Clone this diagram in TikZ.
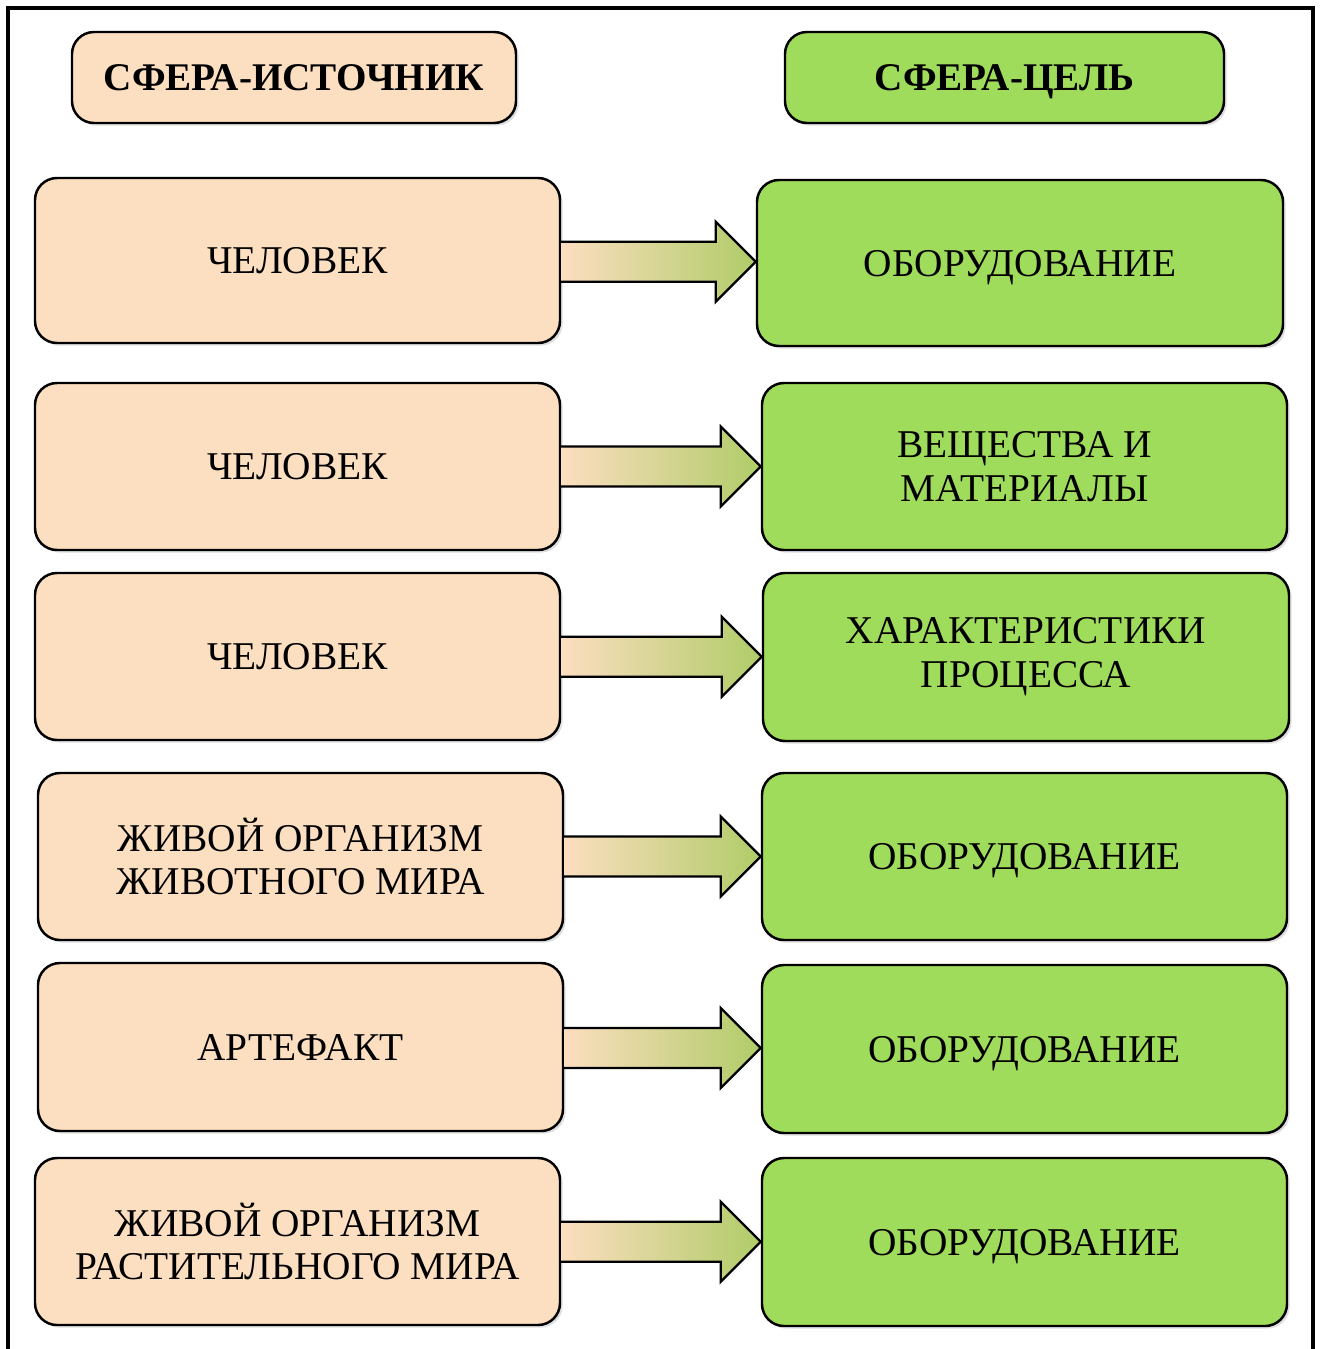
\documentclass[tikz,border=0pt]{standalone}
\usepackage{fontspec}
\setmainfont{Liberation Serif}
\usetikzlibrary{calc,shadows}
\definecolor{peach}{RGB}{252,222,192}
\definecolor{leaf}{RGB}{160,220,92}
\definecolor{arrowmid}{RGB}{248,242,196}
\definecolor{arrowend}{RGB}{176,204,104}
\tikzset{
  box/.style={draw=black, line width=1.4pt, rounded corners=0.44cm, align=center,
    inner sep=0pt, font=\fontsize{22.4}{25}\selectfont,
    drop shadow={opacity=0.25, shadow xshift=1.5pt, shadow yshift=-1.5pt}},
  srcbox/.style={box, fill=peach},
  tgtbox/.style={box, fill=leaf},
  one/.style={text height=14.8pt, text depth=0pt},
  headbox/.style={one, font=\fontsize{22.3}{25}\selectfont\bfseries},
  sz/.style 2 args={minimum width=#1*0.02cm, minimum height=#2*0.02cm},
  fatarrow/.style={draw=black, line width=1.3pt, line join=miter,
    left color=peach, middle color=arrowmid, right color=arrowend},
  frame/.style={draw=black, line width=2.8pt}
}
\begin{document}
\begin{tikzpicture}[x=0.02cm,y=-0.02cm]
\useasboundingbox (0,0) rectangle (1322,1349);
\draw[frame] (8,1349) -- (8,8) -- (1313,8) -- (1313,1349);

\node[srcbox, headbox, sz={444}{91}] (HL) at (294,77.5) {СФЕРА-ИСТОЧНИК};
\node[tgtbox, headbox, sz={439}{91}] (HR) at (1004.5,77.5) {СФЕРА-ЦЕЛЬ};

\node[srcbox, one, sz={525}{165}] (L1) at (297.5,260.5) {ЧЕЛОВЕК};
\node[srcbox, one, sz={525}{167}] (L2) at (297.5,466.5) {ЧЕЛОВЕК};
\node[srcbox, one, sz={525}{167}] (L3) at (297.5,656.5) {ЧЕЛОВЕК};
\node[srcbox, sz={525}{167}] (L4) at (300.5,856.5) {ЖИВОЙ ОРГАНИЗМ\\ЖИВОТНОГО МИРА};
\node[srcbox, one, sz={525}{168}] (L5) at (300.5,1047) {АРТЕФАКТ};
\node[srcbox, sz={525}{167}] (L6) at (297.5,1241.5) {ЖИВОЙ ОРГАНИЗМ\\РАСТИТЕЛЬНОГО МИРА};

\node[tgtbox, one, sz={526}{166}] (R1) at (1020,263) {ОБОРУДОВАНИЕ};
\node[tgtbox, sz={525}{167}] (R2) at (1024.5,466.5) {ВЕЩЕСТВА И\\МАТЕРИАЛЫ};
\node[tgtbox, sz={526}{168}] (R3) at (1026,657) {ХАРАКТЕРИСТИКИ\\ПРОЦЕССА};
\node[tgtbox, one, sz={525}{167}] (R4) at (1024.5,856.5) {ОБОРУДОВАНИЕ};
\node[tgtbox, one, sz={525}{168}] (R5) at (1024.5,1049) {ОБОРУДОВАНИЕ};
\node[tgtbox, one, sz={525}{168}] (R6) at (1024.5,1242) {ОБОРУДОВАНИЕ};

\foreach \a/\b in {L1/R1,L2/R2,L3/R3,L4/R4,L5/R5,L6/R6}{
  \path[fatarrow] let \p1=(\a.east), \p2=(\b.west), \n1={0.5*(\y1+\y2)} in
    (\x1,\n1+0.4cm) -- (\x2-0.8cm,\n1+0.4cm) -- (\x2-0.8cm,\n1+0.8cm)
    -- (\x2,\n1) -- (\x2-0.8cm,\n1-0.8cm) -- (\x2-0.8cm,\n1-0.4cm)
    -- (\x1,\n1-0.4cm);
}
\end{tikzpicture}
\end{document}
